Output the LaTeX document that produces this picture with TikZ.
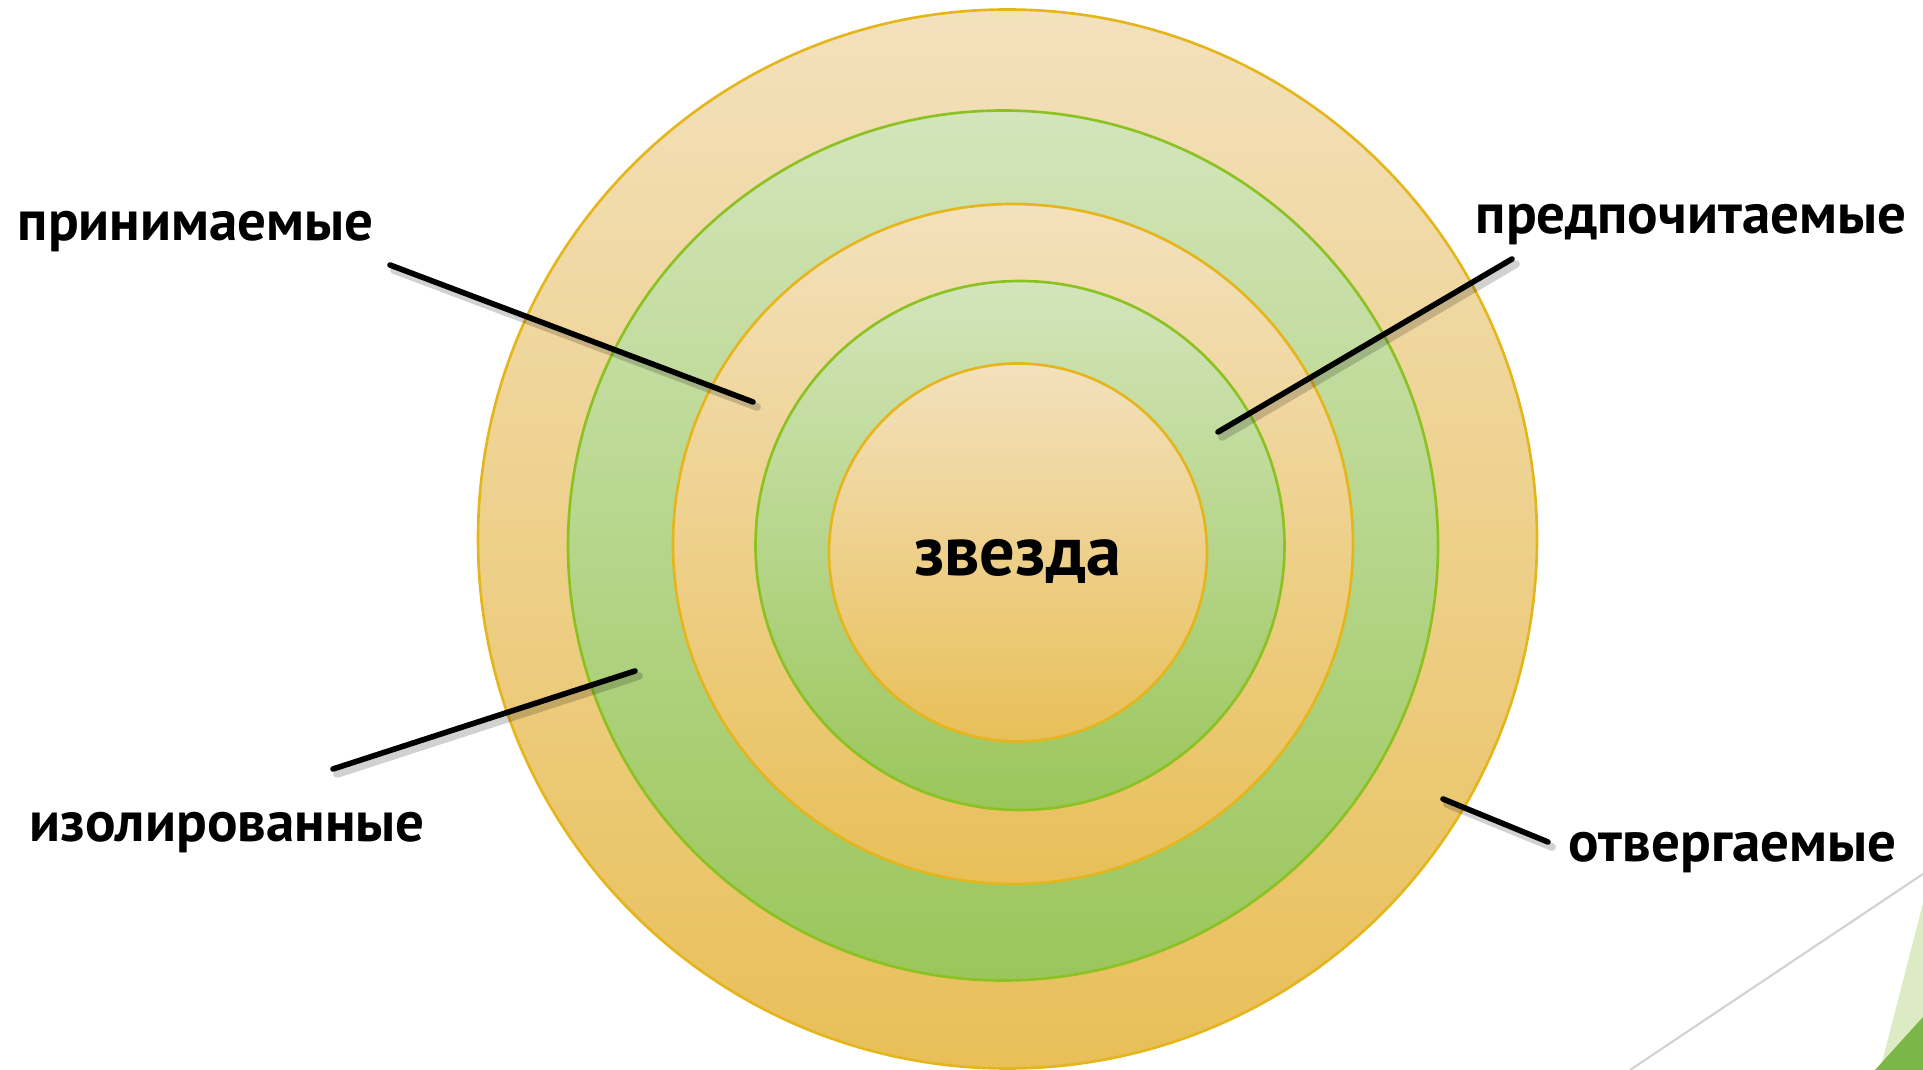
\documentclass[tikz,border=0pt]{standalone}
\usepackage{fontspec}
\setmainfont{PT Sans}
\usetikzlibrary{positioning}

\definecolor{ringtopO}{HTML}{F3E1BD}
\definecolor{ringbotO}{HTML}{E8BF58}
\definecolor{ringtopG}{HTML}{D3E5BB}
\definecolor{ringbotG}{HTML}{9AC65A}
\definecolor{edgeO}{HTML}{E5B51C}
\definecolor{edgeG}{HTML}{8CC122}
\definecolor{cornerL}{HTML}{DCEBC4}
\definecolor{cornerD}{HTML}{7AB648}

\tikzset{
  ringO/.style={draw=edgeO, line width=0.75pt, top color=ringtopO, bottom color=ringbotO},
  ringG/.style={draw=edgeG, line width=0.75pt, top color=ringtopG, bottom color=ringbotG},
  leader/.style={line width=1.6pt, line cap=round, black},
  leadershadow/.style={line width=2.2pt, line cap=round, black, opacity=0.18},
  lbl/.style={font=\fontsize{16.2}{19}\selectfont\bfseries, inner sep=0pt},
}

\begin{document}
\begin{tikzpicture}[x=0.01cm, y=-0.01cm]
\useasboundingbox (0,0) rectangle (1923,1070);

\coordinate (C1) at (1007.5,539);
\coordinate (C2) at (1003,545.5);
\coordinate (C3) at (1013,544);
\coordinate (C4) at (1020,545.5);
\coordinate (C5) at (1018,552.5);

\draw[ringO] (C1) circle (529.5);
\draw[ringG] (C2) circle (435);
\draw[ringO] (C3) circle (340);
\draw[ringG] (C4) circle (264.5);
\draw[ringO] (C5) circle (189);

\node[lbl, font=\fontsize{20}{24}\selectfont\bfseries, anchor=base] (star) at (1017.5,575) {звезда};

\node[lbl, anchor=base west] (accepted) at (17,241) {принимаемые};
\node[lbl, anchor=base west] (preferred) at (1475,234) {предпочитаемые};
\node[lbl, anchor=base west] (isolated) at (29,841) {изолированные};
\node[lbl, anchor=base west] (rejected) at (1568,861) {отвергаемые};

\coordinate (a1) at (390,265);
\coordinate (a2) at (753,402);
\coordinate (p1) at (1512,259);
\coordinate (p2) at (1218,432);
\coordinate (i1) at (333,769);
\coordinate (i2) at (635,671);
\coordinate (r1) at (1443,799);
\coordinate (r2) at (1548,842);

\foreach \s/\e in {a1/a2, p1/p2, i1/i2, r1/r2}{
  \draw[leadershadow, transform canvas={xshift=0.04cm, yshift=-0.05cm}] (\s) -- (\e);
  \draw[leader] (\s) -- (\e);
}

\draw[gray!35, line width=0.6pt] (1630,1070) -- (1923,874);
\fill[cornerL] (1923,903) -- (1880,1070) -- (1923,1070) -- cycle;
\fill[cornerD] (1923,1017) -- (1875,1070) -- (1923,1070) -- cycle;

\end{tikzpicture}
\end{document}
